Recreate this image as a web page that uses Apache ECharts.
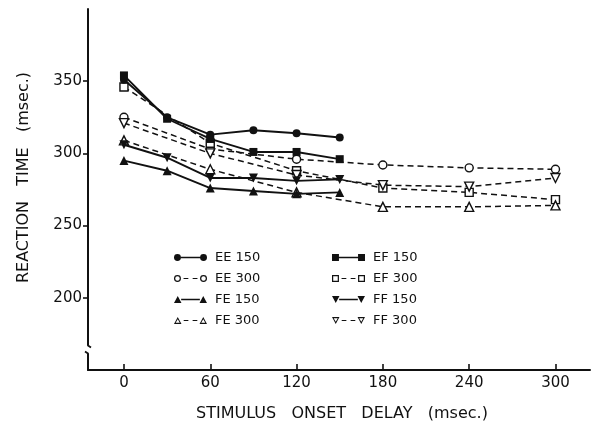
<!DOCTYPE html>
<html>
<head>
<meta charset="utf-8">
<script src="https://cdn.jsdelivr.net/npm/echarts@6/dist/echarts.min.js"></script>
<style>
html,body{margin:0;padding:0;background:#fff;}
#c{width:598px;height:433px;}
</style>
</head>
<body>
<div id="c"></div>
<script>
// ---- data ----
const x150 = [0, 30, 60, 90, 120, 150];
const x300 = [0, 60, 120, 180, 240, 300];
const ee150 = [351, 325, 313, 316, 314, 311];
const ef150 = [354, 324, 310, 301, 301, 296];
const fe150 = [295, 288, 276, 274, 272, 273];
const ff150 = [306, 297, 283, 283, 281, 282];
const ee300 = [325, 303, 296, 292, 290, 289];
const ef300 = [346, 307, 288, 276, 273, 268];
const fe300 = [309, 289, 273, 263, 263, 264];
const ff300 = [321, 300, 285, 278, 277, 283];
const xTicks = [0, 60, 120, 180, 240, 300];
const yTicks = [200, 250, 300, 350];

const INK = '#111';
const FONT = 'DejaVu Sans';

function pairs(xs, ys) { return xs.map((x, i) => [x, ys[i]]); }

// legend icon paths: marker - line - marker
function circle(cx, open) {
  let p = `M${cx-4},4 a4,4 0 1,0 8,0 a4,4 0 1,0 -8,0 Z `;
  if (open) p += `M${cx-2.6},4 a2.6,2.6 0 1,1 5.2,0 a2.6,2.6 0 1,1 -5.2,0 Z `;
  return p;
}
function square(cx, open) {
  let p = `M${cx-4},0 h8 v8 h-8 Z `;
  if (open) p += `M${cx-2.6},1.4 v5.2 h5.2 v-5.2 Z `;
  return p;
}
function triUp(cx, open) {
  let p = `M${cx-4.4},8 L${cx},0 L${cx+4.4},8 Z `;
  if (open) p += `M${cx-2.4},6.7 L${cx+2.4},6.7 L${cx},2.5 Z `;
  return p;
}
function triDown(cx, open) {
  let p = `M${cx-4.4},0 L${cx+4.4},0 L${cx},8 Z `;
  if (open) p += `M${cx-2.4},1.3 L${cx},5.5 L${cx+2.4},1.3 Z `;
  return p;
}
function icon(fn, open) {
  let p = fn(4, open) + fn(34, open);
  if (open) p += 'M11,3.3 h5.5 v1.4 h-5.5 Z M21.5,3.3 h5.5 v1.4 h-5.5 Z';
  else p += 'M8,3.1 h22 v1.8 h-22 Z';
  return 'path://' + p;
}

const defs = [
  { name: 'EE 150', xs: x150, ys: ee150, sym: 'circle', rot: 0, open: false, fn: circle },
  { name: 'EF 150', xs: x150, ys: ef150, sym: 'rect', rot: 0, open: false, fn: square },
  { name: 'EE 300', xs: x300, ys: ee300, sym: 'circle', rot: 0, open: true, fn: circle },
  { name: 'EF 300', xs: x300, ys: ef300, sym: 'rect', rot: 0, open: true, fn: square },
  { name: 'FE 150', xs: x150, ys: fe150, sym: 'triangle', rot: 0, open: false, fn: triUp },
  { name: 'FF 150', xs: x150, ys: ff150, sym: 'triangle', rot: 180, open: false, fn: triDown },
  { name: 'FE 300', xs: x300, ys: fe300, sym: 'triangle', rot: 0, open: true, fn: triUp },
  { name: 'FF 300', xs: x300, ys: ff300, sym: 'triangle', rot: 180, open: true, fn: triDown }
];

const series = defs.map(d => ({
  name: d.name,
  type: 'line',
  data: pairs(d.xs, d.ys),
  symbol: d.sym,
  symbolRotate: d.rot,
  symbolSize: d.sym === 'triangle' ? 9 : 8,
  showAllSymbol: true,
  z: d.open ? 3 : 4,
  lineStyle: { color: INK, width: d.open ? 1.5 : 1.9, type: d.open ? [6, 4] : 'solid' },
  itemStyle: d.open ? { color: '#fff', borderColor: INK, borderWidth: 1.4 } : { color: INK, borderWidth: 0 },
  emphasis: { disabled: true }
}));

function legendData(names) {
  return names.map(n => {
    const d = defs.find(e => e.name === n);
    return { name: n, icon: icon(d.fn, d.open), itemStyle: { color: INK, borderWidth: 0 } };
  });
}
const legendBase = {
  orient: 'vertical', itemWidth: 33, itemHeight: 7, itemGap: 6,
  selectedMode: false,
  textStyle: { fontFamily: FONT, fontSize: 13, lineHeight: 15, color: INK, padding: [0, 0, 0, 3] }
};

const chart = echarts.init(document.getElementById('c'), null, { renderer: 'canvas' });
chart.setOption({
  animation: false,
  backgroundColor: '#fff',
  grid: { left: 88, right: 8, top: 9, bottom: 63 },
  xAxis: {
    type: 'value', min: -25, max: 324,
    name: 'STIMULUS   ONSET   DELAY   (msec.)',
    nameLocation: 'middle', nameGap: 36,
    nameTextStyle: { fontFamily: FONT, fontSize: 16, color: INK, padding: [0, 0, 0, 6] },
    axisLine: { show: true, onZero: false, lineStyle: { color: INK, width: 2 } },
    axisTick: { show: true, inside: true, length: 6, lineStyle: { color: INK, width: 1.6 }, customValues: xTicks },
    axisLabel: { fontFamily: FONT, fontSize: 15, color: INK, margin: 6, customValues: xTicks },
    splitLine: { show: false }
  },
  yAxis: {
    type: 'value', min: 150, max: 400,
    name: 'REACTION   TIME   (msec.)',
    nameLocation: 'middle', nameGap: 56,
    nameTextStyle: { fontFamily: FONT, fontSize: 16, color: INK, padding: [0, 0, 0, 24] },
    axisLine: { show: true, onZero: false, lineStyle: { color: INK, width: 2 } },
    axisTick: { show: true, inside: false, length: 5, lineStyle: { color: INK, width: 1.6 }, customValues: yTicks },
    axisLabel: { fontFamily: FONT, fontSize: 15, color: INK, margin: 6, customValues: yTicks },
    splitLine: { show: false }
  },
  legend: [
    Object.assign({ left: 169, top: 245, data: legendData(['EE 150', 'EE 300', 'FE 150', 'FE 300']) }, legendBase),
    Object.assign({ left: 327, top: 245, data: legendData(['EF 150', 'EF 300', 'FF 150', 'FF 300']) }, legendBase)
  ],
  graphic: [
    { type: 'rect', shape: { x: 83, y: 345, width: 10, height: 9 }, style: { fill: '#fff' }, z: 100 },
    { type: 'polyline', shape: { points: [[88, 343], [88, 345.5], [91, 347.5]] }, style: { stroke: INK, lineWidth: 1.8, fill: null }, z: 101 },
    { type: 'polyline', shape: { points: [[85, 351.5], [88, 353.5], [88, 356]] }, style: { stroke: INK, lineWidth: 1.8, fill: null }, z: 101 }
  ],
  series: series
});
</script>
</body>
</html>
